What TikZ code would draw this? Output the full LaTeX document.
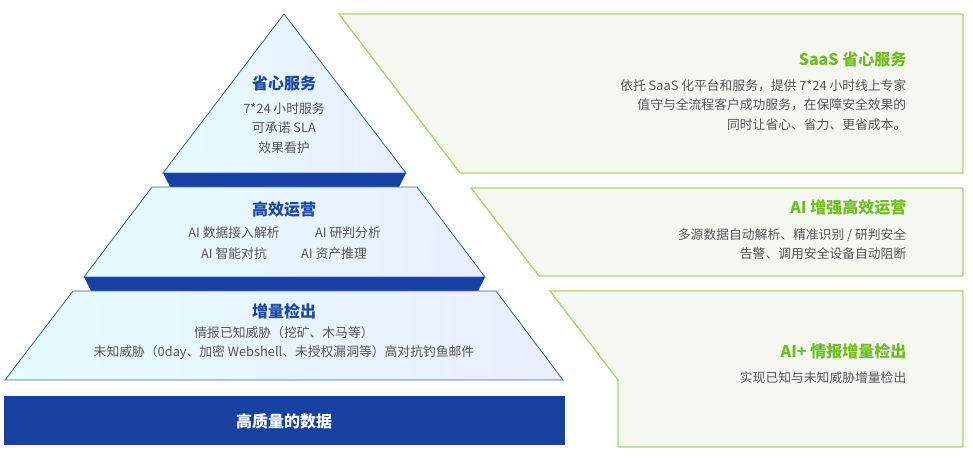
\documentclass[tikz,border=0pt]{standalone}
\usepackage{fontspec}
\setmainfont{Noto Sans CJK SC}
\usepackage{tikz}
\definecolor{deepblue}{HTML}{1740A0}
\definecolor{edgeblue}{HTML}{2E62AE}
\definecolor{titleblue}{HTML}{1A47A6}
\definecolor{leafgreen}{HTML}{6DBE1E}
\definecolor{panelfill}{HTML}{F5F8F1}
\definecolor{panelline}{HTML}{A5D870}
\definecolor{bodygray}{HTML}{555555}
\tikzset{
  tier/.style={draw=edgeblue, line width=0.6pt, left color=blue!12!cyan!10, middle color=white, right color=cyan!15!blue!8},
  panel/.style={draw=panelline, line width=1pt, fill=panelfill},
  tiertitle/.style={font=\bfseries\fontsize{12}{14}\selectfont, text=titleblue},
  paneltitle/.style={font=\bfseries\fontsize{12}{14}\selectfont, text=leafgreen, anchor=east},
  body/.style={font=\fontsize{9.6}{14.5}\selectfont, text=bodygray, align=center},
  rbody/.style={font=\fontsize{9.6}{14.5}\selectfont, text=bodygray, align=right, anchor=east}
}
\begin{document}
\begin{tikzpicture}[x=0.75pt,y=0.75pt,yscale=-1,xscale=1]
\path (0,0) rectangle (973,459); %set diagram size

%Shape: bands between tiers
\fill [deepblue] (163,173) -- (406,173) -- (399,187) -- (170,187) -- cycle ;
\fill [deepblue] (84,277) -- (485,277) -- (478,291) -- (91,291) -- cycle ;
%Shape: Triangle top tier
\draw [tier] (284,14) -- (406,173) -- (163,173) -- cycle ;
%Shape: Trapezoid middle tier
\draw [tier] (152,187) -- (417,187) -- (485,277) -- (84,277) -- cycle ;
%Shape: Trapezoid bottom tier
\draw [tier] (73,291) -- (496,291) -- (563,380) -- (5,380) -- cycle ;
%Shape: Rectangle base
\fill [deepblue] (4,396) rectangle (565,445) ;

%Shape: right panels
\draw [panel] (339,14) -- (963,14) -- (963,173) -- (460,173) -- cycle ;
\draw [panel] (471,188) -- (963,188) -- (963,276) -- (539,276) -- cycle ;
\draw [panel] (550,291) -- (963,291) -- (963,447) -- (618,447) -- (618,380) -- cycle ;

% Text Node
\node [tiertitle] (care) at (284,83) {省心服务};
\node [body] (careitems) at (284,128) {7*24 小时服务\\可承诺 SLA\\效果看护};
% Text Node
\node [tiertitle] (ops) at (284,209) {高效运营};
\node [body] (opsa) at (234,233) {AI 数据接入解析};
\node [body] (opsb) at (348,233) {AI 研判分析};
\node [body] (opsc) at (234,254) {AI 智能对抗};
\node [body] (opsd) at (334,254) {AI 资产推理};
% Text Node
\node [tiertitle] (detect) at (284,311) {增量检出};
\node [body] (detectitems) at (284,343) {情报已知威胁（挖矿、木马等）\\未知威胁（0day、加密 Webshell、未授权漏洞等）高对抗钓鱼邮件};
% Text Node
\node [tiertitle, text=white] (data) at (284,421) {高质量的数据};

% Text Node
\node [paneltitle] (saas) at (911,59) {SaaS 省心服务};
\node [rbody] (saasdesc) at (911,105) {依托 SaaS 化平台和服务，提供 7*24 小时线上专家\\值守与全流程客户成功服务，在保障安全效果的\\同时让省心、省力、更省成本。};
% Text Node
\node [paneltitle] (aiops) at (911,207) {AI 增强高效运营};
\node [rbody] (aiopsdesc) at (911,244) {多源数据自动解析、精准识别 / 研判安全\\告警、调用安全设备自动阻断};
% Text Node
\node [paneltitle] (aiintel) at (911,351) {AI+ 情报增量检出};
\node [rbody] (aiinteldesc) at (911,378) {实现已知与未知威胁增量检出};

\end{tikzpicture}
\end{document}
